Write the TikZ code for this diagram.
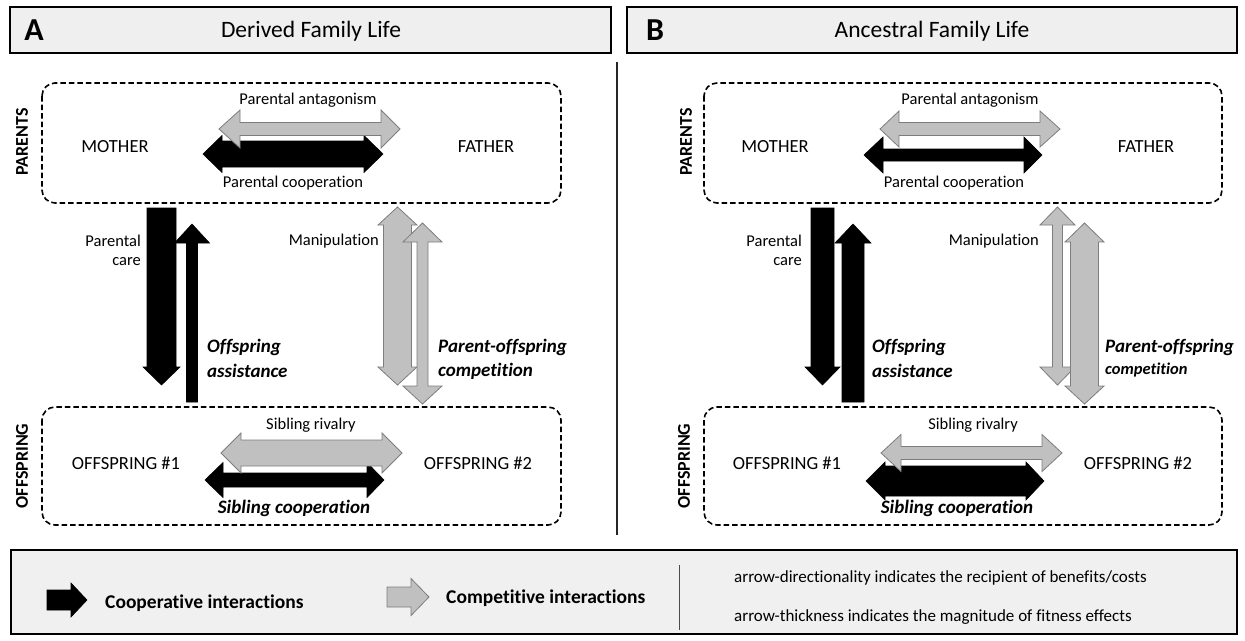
\documentclass[tikz,border=0pt]{standalone}
\usepackage{fontspec}
\setmainfont{Carlito}[Ligatures={NoCommon}]
\usepackage{tikz}

\definecolor{compgray}{RGB}{192,192,192}
\definecolor{compedge}{RGB}{125,125,125}
\definecolor{hdrfill}{RGB}{239,239,239}

% block arrows, drawn as polygons (x right, y down)
% #1 style, #2 y, #3 left tip, #4 left base, #5 right base, #6 right tip, #7 shaft half, #8 head half
\newcommand{\hdblarrow}[8]{%
  \filldraw[#1] ({#3},{#2}) -- ({#4},{#2-#8}) -- ({#4},{#2-#7}) -- ({#5},{#2-#7}) -- ({#5},{#2-#8}) -- ({#6},{#2})
    -- ({#5},{#2+#8}) -- ({#5},{#2+#7}) -- ({#4},{#2+#7}) -- ({#4},{#2+#8}) -- cycle;}
% #1 style, #2 x, #3 top tip, #4 top base, #5 bottom base, #6 bottom tip, #7 shaft half, #8 head half
\newcommand{\vdblarrow}[8]{%
  \filldraw[#1] ({#2},{#3}) -- ({#2+#8},{#4}) -- ({#2+#7},{#4}) -- ({#2+#7},{#5}) -- ({#2+#8},{#5}) -- ({#2},{#6})
    -- ({#2-#8},{#5}) -- ({#2-#7},{#5}) -- ({#2-#7},{#4}) -- ({#2-#8},{#4}) -- cycle;}
% #1 style, #2 x, #3 tail, #4 head base, #5 tip, #6 shaft half, #7 head half
\newcommand{\vonearrow}[7]{%
  \filldraw[#1] ({#2-#6},{#3}) -- ({#2-#6},{#4}) -- ({#2-#7},{#4}) -- ({#2},{#5}) -- ({#2+#7},{#4})
    -- ({#2+#6},{#4}) -- ({#2+#6},{#3}) -- cycle;}
% #1 style, #2 y, #3 tail, #4 head base, #5 tip, #6 shaft half, #7 head half
\newcommand{\honearrow}[7]{%
  \filldraw[#1] ({#3},{#2-#6}) -- ({#4},{#2-#6}) -- ({#4},{#2-#7}) -- ({#5},{#2}) -- ({#4},{#2+#7})
    -- ({#4},{#2+#6}) -- ({#3},{#2+#6}) -- cycle;}

\begin{document}
\begin{tikzpicture}[x=1pt, y=-1pt,
    coop/.style={fill=black, draw=black, line width=0.6pt},
    comp/.style={fill=compgray, draw=compedge, line width=0.8pt},
    hdr/.style={draw=black, line width=1.8pt, fill=hdrfill},
    grp/.style={draw=black, line width=1.6pt, dash pattern=on 5.5pt off 3pt, rounded corners=13pt},
    panel/.style={font=\bfseries\fontsize{32}{34}\selectfont},
    title/.style={font=\fontsize{23.5}{26}\selectfont},
    who/.style={font=\fontsize{18.5}{20}\selectfont},
    side/.style={rotate=90, font=\bfseries\fontsize{18}{20}\selectfont},
    lbl/.style={font=\fontsize{16.5}{21}\selectfont, inner sep=0pt},
    key/.style={font=\bfseries\itshape\fontsize{19}{24}\selectfont, inner sep=0pt},
    note/.style={font=\fontsize{17}{19}\selectfont, inner sep=0pt}]
\useasboundingbox (0,0) rectangle (1245,640);

% headers
\draw[hdr] (10,7) rectangle (611,53);
\draw[hdr] (627,7) rectangle (1237,53);
\draw (34,30) node[panel] (pa) {A} ;
\draw (311,31) node[title] (derived) {Derived Family Life} ;
\draw (655,30) node[panel] (pb) {B} ;
\draw (932,31) node[title] (ancestral) {Ancestral Family Life} ;

\draw[line width=1.5pt, black!85] (617,62) -- (617,535);

% panel A
\draw[grp] (42,83) rectangle (561,203);
\draw[grp] (42,407) rectangle (561,525);
\draw (22,142) node[side] (parA) {PARENTS} ;
\draw (22,466) node[side] (offA) {OFFSPRING} ;
\draw (115,147) node[who] (motherA) {MOTHER} ;
\draw (486,147) node[who] (fatherA) {FATHER} ;
\draw (126,463) node[who] (oneA) {OFFSPRING \#1} ;
\draw (478,463) node[who] (twoA) {OFFSPRING \#2} ;

\hdblarrow{coop}{154}{203}{222}{364}{383}{13}{18.5}
\hdblarrow{comp}{129}{219}{240}{381}{400}{6.5}{19}
\draw (308,100) node[lbl] (antagA) {Parental antagonism} ;
\draw (293,183) node[lbl] (coopA) {Parental cooperation} ;

\hdblarrow{coop}{480}{205}{223}{367}{384}{7}{17.5}
\hdblarrow{comp}{453}{221}{241}{382}{402}{13}{20}
\draw (311,425) node[lbl] (rivalA) {Sibling rivalry} ;
\draw (294,508) node[key] (sibA) {Sibling cooperation} ;

\vonearrow{coop}{161.5}{208}{367}{385}{14.5}{18.5}
\vonearrow{coop}{192}{402}{243}{224}{5.5}{17.5}
\vdblarrow{comp}{397.5}{207}{225}{367}{385}{14}{19.5}
\vdblarrow{comp}{422.5}{223}{242}{386}{404}{5.5}{19.5}
\draw (141,241) node[lbl, anchor=east] (careA1) {Parental} ;
\draw (141,262) node[lbl, anchor=east] (careA2) {care} ;
\draw (379,241) node[lbl, anchor=east] (manipA) {Manipulation} ;
\draw (207,347) node[key, anchor=west] (assistA1) {Offspring} ;
\draw (207,371) node[key, anchor=west] (assistA2) {assistance} ;
\draw (438,347) node[key, anchor=west] (pocA1) {Parent-offspring} ;
\draw (438,371) node[key, anchor=west] (pocA2) {competition} ;

% panel B
\draw[grp] (704,83) rectangle (1222,203);
\draw[grp] (704,407) rectangle (1222,525);
\draw (686,142) node[side] (parB) {PARENTS} ;
\draw (684,466) node[side] (offB) {OFFSPRING} ;
\draw (775,147) node[who] (motherB) {MOTHER} ;
\draw (1146,147) node[who] (fatherB) {FATHER} ;
\draw (787,463) node[who] (oneB) {OFFSPRING \#1} ;
\draw (1138,463) node[who] (twoB) {OFFSPRING \#2} ;

\hdblarrow{coop}{155}{864}{883}{1024}{1042}{6}{18}
\hdblarrow{comp}{129}{880}{899}{1040}{1060}{6.5}{18}
\draw (970,100) node[lbl] (antagB) {Parental antagonism} ;
\draw (954,183) node[lbl] (coopB) {Parental cooperation} ;

\hdblarrow{coop}{481}{866}{885}{1026}{1044}{15}{19}
\hdblarrow{comp}{453}{881}{901}{1042}{1062}{6.5}{18.5}
\draw (973,425) node[lbl] (rivalB) {Sibling rivalry} ;
\draw (957,508) node[key] (sibB) {Sibling cooperation} ;

\vonearrow{coop}{822.5}{208}{367}{385}{11.5}{17.5}
\vonearrow{coop}{853}{402}{243}{224}{11}{18}
\vdblarrow{comp}{1057.5}{207}{225}{367}{385}{5}{17.5}
\vdblarrow{comp}{1084.5}{223}{242}{386}{404}{14}{19.5}
\draw (802,241) node[lbl, anchor=east] (careB1) {Parental} ;
\draw (802,262) node[lbl, anchor=east] (careB2) {care} ;
\draw (1039,241) node[lbl, anchor=east] (manipB) {Manipulation} ;
\draw (872,347) node[key, anchor=west] (assistB1) {Offspring} ;
\draw (872,371) node[key, anchor=west] (assistB2) {assistance} ;
\draw (1105,347) node[key, anchor=west] (pocB1) {Parent-offspring} ;
\draw (1105,370) node[key, anchor=west, font=\bfseries\itshape\fontsize{16.5}{20}\selectfont] (pocB2) {competition} ;

% legend
\draw[hdr, line width=1.5pt, fill=hdrfill!95!white] (11,550) rectangle (1237,634);
\honearrow{coop}{600}{47}{71}{87}{10}{17}
\honearrow{comp}{597}{387}{411}{429}{10}{18.5}
\draw (105,603) node[key, anchor=west, font=\bfseries\fontsize{19.5}{24}\selectfont] (coopkey) {Cooperative interactions} ;
\draw (446,598) node[key, anchor=west, font=\bfseries\fontsize{19.5}{24}\selectfont] (compkey) {Competitive interactions} ;
\draw[line width=0.8pt, black!70] (679,565) -- (679,630);
\draw (734,578) node[note, anchor=west] (dirnote) {arrow-directionality indicates the recipient of benefits/costs} ;
\draw (734,617) node[note, anchor=west] (thicknote) {arrow-thickness indicates the magnitude of fitness effects} ;
\end{tikzpicture}
\end{document}
